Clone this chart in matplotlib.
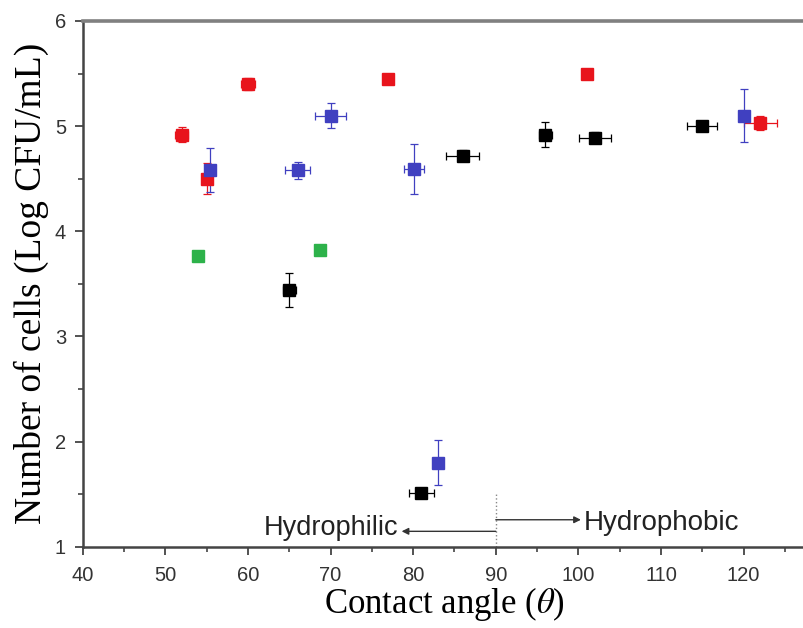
import matplotlib
matplotlib.use("Agg")
import matplotlib.pyplot as plt
from matplotlib.ticker import MultipleLocator

plt.rcParams["mathtext.fontset"] = "stix"

# ---- data ----
red_x = [52, 55, 60, 77, 101, 122]
red_y = [4.92, 4.50, 5.40, 5.45, 5.50, 5.03]
red_xerr = [0.8, 0.6, 0.8, 0.5, 0.5, 2.0]
red_yerr = [0.07, 0.15, 0.06, 0.03, 0.03, 0.07]

blue_x = [55.4, 66, 70, 80.1, 83, 120]
blue_y = [4.58, 4.58, 5.10, 4.59, 1.80, 5.10]
blue_xerr = [0.5, 1.5, 1.9, 1.2, 0.3, 0.3]
blue_yerr = [0.21, 0.08, 0.12, 0.24, 0.21, 0.25]

black_x = [65, 81, 86, 96, 102, 115]
black_y = [3.44, 1.51, 4.72, 4.92, 4.89, 5.00]
black_xerr = [0.8, 1.5, 2.0, 0.8, 1.9, 1.8]
black_yerr = [0.16, 0.05, 0.05, 0.12, 0.05, 0.05]

green_x = [54.0, 68.7]
green_y = [3.76, 3.82]
green_xerr = [0.5, 0.6]
green_yerr = [0.04, 0.05]

x_ticks = [40, 50, 60, 70, 80, 90, 100, 110, 120]
y_ticks = [1, 2, 3, 4, 5, 6]

series = [
    (red_x, red_y, red_xerr, red_yerr, "#e8141c"),
    (blue_x, blue_y, blue_xerr, blue_yerr, "#4040c0"),
    (black_x, black_y, black_xerr, black_yerr, "#000000"),
    (green_x, green_y, green_xerr, green_yerr, "#2db24a"),
]

fig = plt.figure(figsize=(8.04, 6.28), dpi=100)
ax = fig.add_axes([0.1029, 0.1295, 0.8991, 0.8371])

for xs, ys, xe, ye, c in series:
    ax.errorbar(xs, ys, xerr=xe, yerr=ye, fmt="s", color=c, ecolor=c,
                markersize=8.5, markeredgecolor=c, elinewidth=0.9, capsize=3,
                capthick=0.9, zorder=3)

ax.set_xlim(40, 127.5)
ax.set_ylim(1, 6)
ax.set_xticks(x_ticks)
ax.set_yticks(y_ticks)
ax.xaxis.set_minor_locator(MultipleLocator(5))
ax.yaxis.set_minor_locator(MultipleLocator(0.5))

tick_font = dict(family="Liberation Sans", size=14.5, color="#333333")
ax.set_xticklabels([str(t) for t in x_ticks], **tick_font)
ax.set_yticklabels([str(t) for t in y_ticks], **tick_font)
ax.tick_params(which="major", direction="out", length=6, width=1.3, color="#444444")
ax.tick_params(axis="y", which="major", pad=6)
ax.tick_params(axis="x", which="major", pad=8)
ax.tick_params(which="minor", direction="out", length=3.5, width=1.2, color="#444444")

for s in ["left", "bottom"]:
    ax.spines[s].set_color("#444444")
    ax.spines[s].set_linewidth(1.8)
ax.spines["top"].set_color("#808080")
ax.spines["top"].set_linewidth(2.6)
ax.spines["right"].set_visible(False)

ax.set_xlabel(r"Contact angle ($\theta$)", family="Liberation Serif", size=25, labelpad=0)
ax.set_ylabel("Number of cells (Log CFU/mL)", family="Liberation Serif", size=27, labelpad=4)

# hydrophilic / hydrophobic annotation
ax.plot([90, 90], [1, 1.5], linestyle=":", color="#888888", lw=1)
ax.annotate("", xy=(78.6, 1.146), xytext=(90, 1.146),
            arrowprops=dict(arrowstyle="-|>", color="#333333", lw=1, mutation_scale=10,
                            shrinkA=0, shrinkB=0))
ax.annotate("", xy=(100.3, 1.256), xytext=(90, 1.256),
            arrowprops=dict(arrowstyle="-|>", color="#333333", lw=1, mutation_scale=10,
                            shrinkA=0, shrinkB=0))
ax.text(78.2, 1.114, "Hydrophilic", family="Liberation Sans", size=19.5, ha="right",
        va="baseline", color="#222222")
ax.text(100.6, 1.161, "Hydrophobic", family="Liberation Sans", size=20, ha="left",
        va="baseline", color="#222222")

fig.savefig("out.png", dpi=100)
